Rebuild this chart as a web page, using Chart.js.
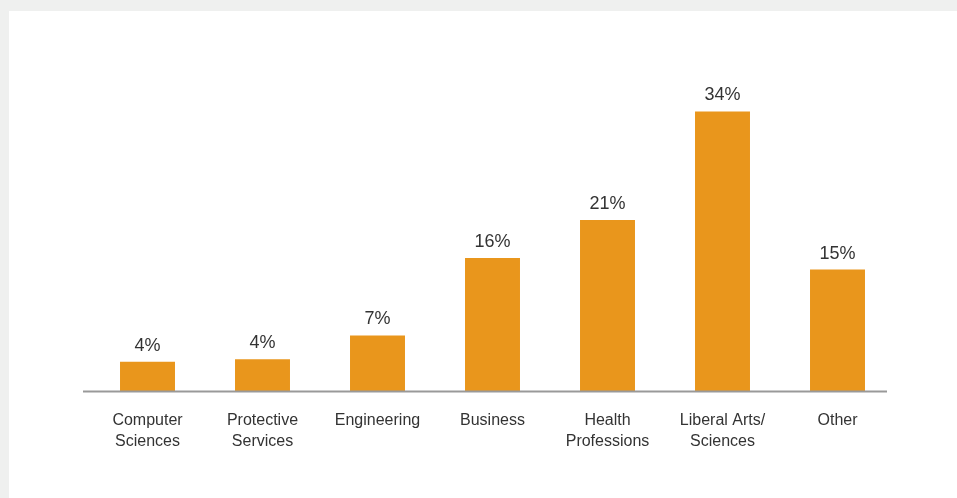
<!DOCTYPE html>
<html>
<head>
<meta charset="utf-8">
<script src="https://cdn.jsdelivr.net/npm/chart.js@4/dist/chart.umd.min.js"></script>
<style>
  html, body { margin: 0; padding: 0; background: #eff0ef; width: 957px; height: 498px; overflow: hidden; }
  .panel { position: absolute; left: 9px; top: 11px; width: 948px; height: 487px; background: #fff; }
</style>
</head>
<body>
<div class="panel"><canvas id="chart" width="948" height="487"></canvas></div>
<script>
// values (percent of students)
const categories = [
  ['Computer', 'Sciences'],
  ['Protective', 'Services'],
  'Engineering',
  'Business',
  ['Health', 'Professions'],
  ['Liberal Arts/', 'Sciences'],
  'Other'
];
const shares = [3.6, 3.9, 6.8, 16.2, 20.8, 34, 14.8];
const shareLabels = ['4%', '4%', '7%', '16%', '21%', '34%', '15%'];

const FONT = '"Helvetica Neue", Helvetica, Arial, "Liberation Sans", sans-serif';

// value labels above bars + the base line under the categories
const barDecor = {
  id: 'barDecor',
  afterDatasetsDraw(chart) {
    const { ctx, scales: { x, y } } = chart;
    const meta = chart.getDatasetMeta(0);
    ctx.save();
    ctx.font = '18px ' + FONT;
    ctx.fillStyle = '#333';
    ctx.textAlign = 'center';
    ctx.textBaseline = 'alphabetic';
    meta.data.forEach((bar, i) => {
      ctx.fillText(shareLabels[i], bar.x, bar.y - 11);
    });
    const base = y.getPixelForValue(0);
    ctx.strokeStyle = '#999';
    ctx.lineWidth = 2;
    ctx.beginPath();
    ctx.moveTo(x.left - 7, base);
    ctx.lineTo(x.right - 8, base);
    ctx.stroke();
    ctx.restore();
  }
};

new Chart(document.getElementById('chart'), {
  type: 'bar',
  data: {
    labels: categories,
    datasets: [{
      data: shares,
      backgroundColor: '#e9961c',
      borderWidth: 0,
      categoryPercentage: 1,
      barPercentage: 0.478
    }]
  },
  options: {
    responsive: false,
    animation: false,
    layout: { padding: { left: 81, right: 62, top: 51, bottom: 27 } },
    plugins: { legend: { display: false }, tooltip: { enabled: false } },
    scales: {
      x: {
        grid: { display: false, drawTicks: false },
        border: { display: false },
        ticks: {
          color: '#333',
          padding: 19,
          maxRotation: 0,
          autoSkip: false,
          font: { family: FONT, size: 16, lineHeight: 1.3 }
        }
      },
      y: {
        display: false,
        min: 0,
        max: 40
      }
    }
  },
  plugins: [barDecor]
});
</script>
</body>
</html>
